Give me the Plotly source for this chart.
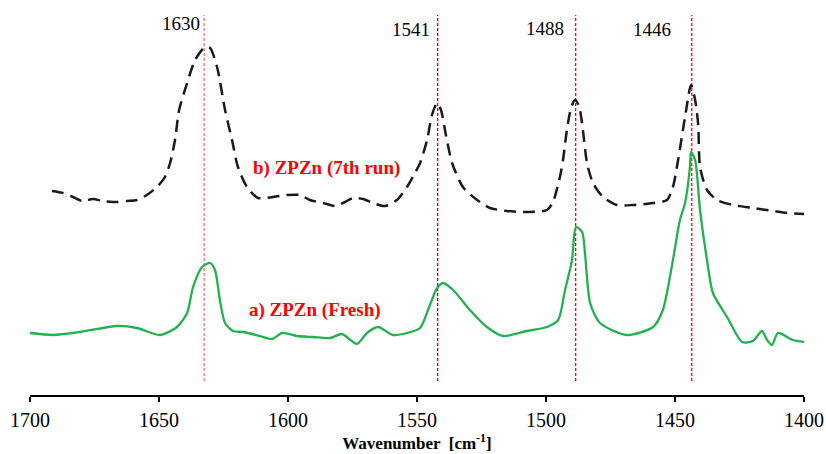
import plotly.graph_objects as go

# Spectrum b) ZPZn (7th run) - dashed black
b_wn = [1691.5, 1687.2, 1683.3, 1679.8, 1675.6, 1671.7, 1666.3, 1662.4, 1658.5, 1654.7,
        1650.8, 1647.7, 1645.7, 1643.8, 1642.2, 1639.1, 1636.0, 1632.2, 1630.2, 1627.5,
        1624.4, 1621.7, 1619.4, 1615.9, 1611.6, 1605.8, 1600.4, 1595.3, 1591.5, 1586.4,
        1581.8, 1577.9, 1574.8, 1570.9, 1567.1, 1562.4, 1557.8, 1553.9, 1550.8, 1548.8,
        1546.1, 1544.2, 1542.2, 1540.7, 1538.8, 1536.4, 1532.2, 1526.7, 1521.7, 1515.1,
        1507.4, 1499.6, 1497.3, 1494.6, 1493.4, 1491.9, 1490.3, 1488.8, 1487.2, 1485.7,
        1484.1, 1481.8, 1477.9, 1472.5, 1466.3, 1458.5, 1453.1, 1450.8, 1448.8, 1446.1,
        1443.8, 1442.2, 1441.0, 1440.3, 1437.6, 1433.7, 1427.5, 1419.8, 1412.0, 1406.6,
        1399.6]
b_int = [2.04, 2.02, 1.98, 1.94, 1.96, 1.94, 1.93, 1.94, 1.95, 2.00,
         2.08, 2.18, 2.32, 2.55, 2.85, 3.12, 3.35, 3.48, 3.47, 3.28,
         2.85, 2.55, 2.28, 2.08, 1.97, 1.98, 2.00, 2.00, 1.95, 1.92,
         1.89, 1.93, 1.97, 1.96, 1.92, 1.89, 1.95, 2.08, 2.22, 2.32,
         2.55, 2.80, 2.92, 2.85, 2.60, 2.32, 2.08, 1.95, 1.87, 1.84,
         1.83, 1.85, 1.93, 2.18, 2.35, 2.65, 2.87, 2.95, 2.89, 2.65,
         2.32, 2.12, 1.98, 1.90, 1.90, 1.92, 1.95, 2.08, 2.35, 2.78,
         3.10, 2.95, 2.70, 2.28, 2.05, 1.95, 1.90, 1.87, 1.84, 1.82,
         1.81]

# Spectrum a) ZPZn (Fresh) - solid green
a_wn = [1700.0, 1691.1, 1680.6, 1666.3, 1658.5, 1649.6, 1643.0, 1639.1, 1636.8, 1633.3,
        1630.2, 1628.3, 1626.4, 1624.4, 1621.3, 1617.4, 1610.9, 1606.2, 1602.3, 1596.5,
        1590.3, 1583.7, 1579.1, 1573.3, 1569.4, 1565.1, 1559.3, 1553.9, 1548.8, 1545.0,
        1542.2, 1539.9, 1536.0, 1529.5, 1522.9, 1516.7, 1507.4, 1499.6, 1495.3, 1492.6,
        1489.9, 1488.4, 1486.0, 1484.9, 1482.9, 1479.1, 1468.6, 1458.5, 1454.7, 1450.8,
        1448.1, 1446.1, 1444.2, 1443.8, 1442.2, 1440.3, 1437.6, 1435.3, 1429.8, 1424.0,
        1419.8, 1416.3, 1414.3, 1412.4, 1410.1, 1404.3, 1399.6]
a_int = [0.62, 0.60, 0.63, 0.69, 0.67, 0.60, 0.68, 0.82, 1.08, 1.28,
         1.32, 1.25, 0.95, 0.72, 0.64, 0.63, 0.59, 0.56, 0.62, 0.59,
         0.58, 0.57, 0.61, 0.51, 0.62, 0.68, 0.60, 0.62, 0.67, 0.90,
         1.07, 1.12, 1.05, 0.85, 0.68, 0.59, 0.64, 0.68, 0.75, 1.05,
         1.35, 1.68, 1.63, 1.42, 0.92, 0.72, 0.60, 0.68, 0.85, 1.35,
         1.75, 1.92, 2.28, 2.43, 2.35, 1.85, 1.35, 1.02, 0.78, 0.53,
         0.54, 0.64, 0.55, 0.50, 0.62, 0.55, 0.53]

# Marker lines and their labels
peak_pos = [1632.5, 1542.0, 1488.5, 1443.5]
peak_labels = ["1630", "1541", "1488", "1446"]
peak_label_x = [1641.5, 1552.3, 1500.4, 1458.9]
peak_label_y = [3.72, 3.66, 3.67, 3.66]
peak_colors = ["rgb(255,110,110)", "rgb(210,0,0)", "rgb(255,0,0)", "rgb(255,0,0)"]

x_ticks = [1700, 1650, 1600, 1550, 1500, 1450, 1400]

SERIF = "Liberation Serif, Times New Roman, serif"

fig = go.Figure()
fig.add_trace(go.Scatter(x=b_wn, y=b_int, mode="lines",
                         line=dict(color="#1a1a1a", width=2.5, dash="12px,7px",
                                   shape="spline", smoothing=0.7),
                         name="b) ZPZn (7th run)", showlegend=False))
fig.add_trace(go.Scatter(x=a_wn, y=a_int, mode="lines",
                         line=dict(color="#22b14c", width=2.3,
                                   shape="spline", smoothing=0.7),
                         name="a) ZPZn (Fresh)", showlegend=False))

for pos, col in zip(peak_pos, peak_colors):
    fig.add_shape(type="line", x0=pos, x1=pos, y0=0.14, y1=3.8, xref="x", yref="y",
                  line=dict(color=col, width=1.3, dash="3px,2px"), layer="below")

for lx, ly, txt in zip(peak_label_x, peak_label_y, peak_labels):
    fig.add_annotation(x=lx, y=ly, text=txt, showarrow=False,
                       font=dict(family=SERIF, size=19, color="black"))

fig.add_annotation(x=1584.9, y=2.27, text="<b>b) ZPZn (7th run)</b>", showarrow=False,
                   font=dict(family=SERIF, size=19, color="red"))
fig.add_annotation(x=1589.5, y=0.85, text="<b>a) ZPZn (Fresh)</b>", showarrow=False,
                   font=dict(family=SERIF, size=19, color="red"))

fig.update_layout(
    width=826, height=454,
    margin=dict(l=30, r=22, t=15, b=59, autoexpand=False),
    paper_bgcolor="white", plot_bgcolor="white",
    font=dict(family=SERIF, color="black"),
    xaxis=dict(range=[1700, 1400], tickvals=x_ticks, showgrid=False, zeroline=False,
               automargin=False,
               showline=True, linecolor="black", linewidth=2,
               ticks="outside", ticklen=5, tickwidth=1.5, tickcolor="black",
               tickfont=dict(family=SERIF, size=20, color="black"),
               ticklabelstandoff=1,
               title=dict(text="<b>Wavenumber  [cm<sup>-1</sup>]</b>",
                          font=dict(family=SERIF, size=17, color="black"),
                          standoff=3)),
    yaxis=dict(range=[0, 3.8], visible=False, showgrid=False, zeroline=False),
)

fig.write_html("out.html", config={"displayModeBar": False},
               post_script="document.body.style.margin='0';document.body.style.overflow='hidden';")
